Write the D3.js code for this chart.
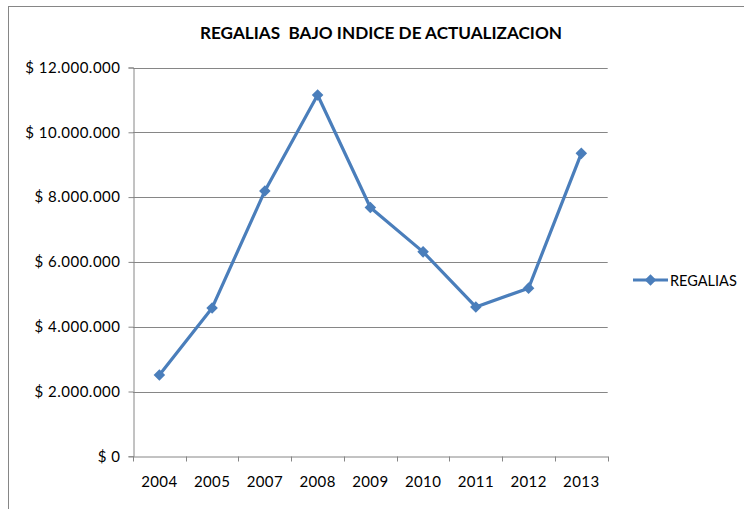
<!DOCTYPE html>
<html>
<head>
<meta charset="utf-8">
<script src="https://cdn.jsdelivr.net/npm/d3@7"></script>
<style>
  body { margin: 0; background: #fff; }
  svg { display: block; }
  text { font-family: Lato, 'Open Sans', sans-serif; fill: #000; white-space: pre; }
</style>
</head>
<body>
<div id="chart"></div>
<script>
'use strict'

const years = ['2004', '2005', '2007', '2008', '2009', '2010', '2011', '2012', '2013']
const regalias = [2510000, 4580000, 8190000, 11150000, 7680000, 6310000, 4610000, 5190000, 9350000]
const yTicks = [0, 2000000, 4000000, 6000000, 8000000, 10000000, 12000000]
const seriesName = 'REGALIAS'
const title = 'REGALIAS  BAJO INDICE DE ACTUALIZACION'

const width = 744
const height = 509
const plot = {left: 133, right: 607.7, top: 67.5, bottom: 456.3}
const blue = '#4a7ebb'
const gray = '#868686'

const svg = d3.select('#chart')
  .append('svg')
    .attr('width', width)
    .attr('height', height)

// outer chart border (runs past the right and bottom edges)
svg.append('rect')
  .attr('x', 8.5)
  .attr('y', 6.5)
  .attr('width', width + 20)
  .attr('height', height + 20)
  .attr('fill', 'none')
  .attr('stroke', gray)

const x = d3.scaleBand()
  .domain(years)
  .range([plot.left, plot.right])
  .padding(0)

const y = d3.scaleLinear()
  .domain([0, 12000000])
  .range([plot.bottom, plot.top])

const money = d => '$ ' + d3.format(',')(d).replace(/,/g, '.')

// gridlines
svg.append('g')
  .selectAll('line')
  .data(yTicks.filter(d => d > 0))
  .join('line')
    .attr('x1', plot.left)
    .attr('x2', plot.right)
    .attr('y1', d => Math.round(y(d)) + 0.5)
    .attr('y2', d => Math.round(y(d)) + 0.5)
    .attr('stroke', gray)
    .attr('stroke-width', 1)

const yAxis = d3.axisLeft(y)
  .tickValues(yTicks)
  .tickSize(5)
  .tickPadding(8)
  .tickFormat(money)

const yAxisGroup = svg.append('g')
  .attr('transform', `translate(${Math.round(plot.left) + 0.5},0)`)
  .call(yAxis)
yAxisGroup.select('.domain').attr('stroke', gray)
yAxisGroup.selectAll('line').attr('stroke', gray)
yAxisGroup.selectAll('text')
  .attr('font-size', 15)
  .attr('letter-spacing', 0.5)
  .attr('fill', '#000')
  .attr('font-family', 'Lato, sans-serif')

const xAxis = d3.axisBottom(x)
  .tickSize(0)
  .tickPadding(20)

const xAxisGroup = svg.append('g')
  .attr('transform', `translate(0,${Math.round(plot.bottom) + 0.5})`)
  .call(xAxis)
xAxisGroup.select('.domain').attr('stroke', gray)
xAxisGroup.selectAll('text')
  .attr('font-size', 15)
  .attr('letter-spacing', 0.4)
  .attr('fill', '#000')
  .attr('font-family', 'Lato, sans-serif')

// tick marks between categories
xAxisGroup.append('g')
  .selectAll('line')
  .data(years.map(d => x(d)).concat([x.range()[1]]))
  .join('line')
    .attr('x1', d => Math.round(d) + 0.5)
    .attr('x2', d => Math.round(d) + 0.5)
    .attr('y1', 0)
    .attr('y2', 5)
    .attr('stroke', gray)

const cx = d => x(d) + x.bandwidth() / 2

const line = d3.line()
  .x((d, i) => cx(years[i]))
  .y(d => y(d))

svg.append('path')
  .datum(regalias)
  .attr('d', line)
  .attr('fill', 'none')
  .attr('stroke', blue)
  .attr('stroke-width', 3.2)
  .attr('stroke-linejoin', 'round')

const diamond = d3.symbol().type(d3.symbolDiamond2).size(85)

svg.append('g')
  .selectAll('path')
  .data(regalias)
  .join('path')
    .attr('d', diamond)
    .attr('transform', (d, i) => `translate(${cx(years[i])},${y(d)})`)
    .attr('fill', blue)

// title
svg.append('text')
  .attr('x', 381)
  .attr('y', 39)
  .attr('text-anchor', 'middle')
  .attr('font-size', 17)
  .attr('font-weight', 'bold')
  .attr('textLength', 362)
  .attr('lengthAdjust', 'spacingAndGlyphs')
  .text(title)

// legend
const legend = svg.append('g')
  .attr('transform', 'translate(633,280)')
legend.append('line')
  .attr('x1', 0)
  .attr('x2', 35)
  .attr('stroke', blue)
  .attr('stroke-width', 3.2)
legend.append('path')
  .attr('d', diamond)
  .attr('transform', 'translate(17.5,0)')
  .attr('fill', blue)
legend.append('text')
  .attr('x', 37)
  .attr('y', 5.5)
  .attr('font-size', 14.5)
  .text(seriesName)
</script>
</body>
</html>
